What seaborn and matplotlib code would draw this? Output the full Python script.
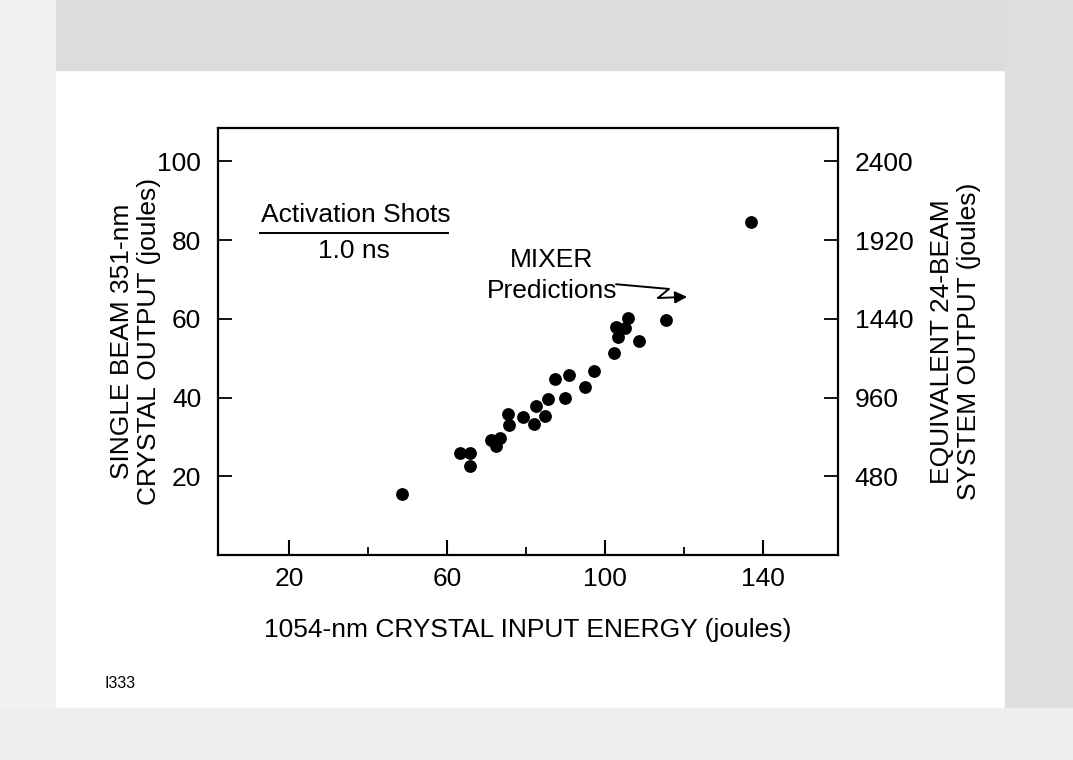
import matplotlib
matplotlib.use("Agg")
import matplotlib.pyplot as plt
from matplotlib.patches import Rectangle
import numpy as np
import pandas as pd
import seaborn as sns

# ---- data ----
input_energy = [48.6, 63.2, 65.9, 65.7, 71.2, 73.5, 72.4, 75.4, 75.6, 79.2,
                81.9, 82.4, 84.7, 85.5, 87.4, 89.8, 91.0, 95.0, 97.3, 102.2,
                102.7, 103.2, 105.1, 105.8, 108.7, 115.4, 137.0]
output_energy = [15.4, 25.9, 25.9, 22.6, 29.2, 29.8, 27.7, 35.8, 33.0, 35.1,
                 33.2, 37.8, 35.4, 39.7, 44.7, 39.9, 45.7, 42.6, 46.8, 51.3,
                 58.0, 55.5, 57.6, 60.2, 54.3, 59.7, 84.5]
x_major_ticks = [20, 60, 100, 140]
x_minor_ticks = [40, 80, 120]
y_ticks = [20, 40, 60, 80, 100]
y2_ticks = [480, 960, 1440, 1920, 2400]
beam_factor = 24

df = pd.DataFrame({"x": input_energy, "y": output_energy})

sns.set_theme(style="ticks")
plt.rcParams["font.family"] = ["Liberation Sans", "DejaVu Sans"]
plt.rcParams["text.color"] = "black"
plt.rcParams["axes.labelcolor"] = "black"
plt.rcParams["xtick.color"] = "black"
plt.rcParams["ytick.color"] = "black"

FS = 19

W, H = 1073, 760
fig = plt.figure(figsize=(W / 100, H / 100), dpi=100)
fig.patch.set_facecolor("white")

# scanned-page border (flat grey bands)
for (x0, y0, w, h, c) in [
    (0, 690, 1073, 70, "#dcdcdc"),   # top band
    (1005, 0, 68, 760, "#dedede"),   # right band
    (0, 0, 55, 760, "#f1f1f1"),      # left band
    (0, 0, 1073, 52, "#eeeeee"),     # bottom band
]:
    fig.patches.append(Rectangle((x0 / W, y0 / H), w / W, h / H,
                                 transform=fig.transFigure, color=c, zorder=0))

L, R, T, B = 218, 838, 128, 555
ax = fig.add_axes([L / W, (H - B) / H, (R - L) / W, (B - T) / H])
ax.set_facecolor("white")

sns.scatterplot(data=df, x="x", y="y", ax=ax, color="black", s=85,
                edgecolor="black", linewidth=0, legend=False, zorder=3)

ax.set_xlim(2, 159)
ax.set_ylim(0, 108.5)
ax.set_xticks(x_major_ticks)
ax.set_xticks(x_minor_ticks, minor=True)
ax.set_yticks(y_ticks)
ax.tick_params(axis="x", which="major", direction="in", length=11, width=1.5,
               labelsize=FS, pad=9)
ax.tick_params(axis="x", which="minor", direction="in", length=6, width=1.3)
ax.tick_params(axis="y", which="major", direction="in", length=10, width=1.3,
               labelsize=FS, pad=12)
for s in ax.spines.values():
    s.set_linewidth(1.6)
    s.set_color("black")

ax.set_xlabel("1054-nm CRYSTAL INPUT ENERGY (joules)", fontsize=FS, labelpad=19)
ax.set_ylabel("SINGLE BEAM 351-nm\nCRYSTAL OUTPUT (joules)", fontsize=FS,
              linespacing=1.15)
ax.yaxis.set_label_coords((161 - L) / (R - L), 0.5)

ax2 = ax.twinx()
ax2.set_ylim(ax.get_ylim()[0] * beam_factor, ax.get_ylim()[1] * beam_factor)
ax2.set_yticks(y2_ticks)
ax2.tick_params(axis="y", which="major", direction="in", length=10, width=1.3,
                labelsize=FS, pad=12)
for s in ax2.spines.values():
    s.set_visible(False)
ax2.set_ylabel("EQUIVALENT 24-BEAM\nSYSTEM OUTPUT (joules)", fontsize=FS,
               linespacing=1.15)
ax2.yaxis.set_label_coords((930 - L) / (R - L), 0.5)

# annotations
ax.text(36.8, 86.3, "Activation Shots", fontsize=FS, ha="center", va="center")
ax.plot([12.5, 60.5], [81.8, 81.8], color="black", lw=1.4, solid_capstyle="butt")
ax.text(36.3, 77.2, "1.0 ns", fontsize=FS, ha="center", va="center")
ax.text(86.5, 75.0, "MIXER", fontsize=FS, ha="center", va="center")
ax.text(86.5, 67.0, "Predictions", fontsize=FS, ha="center", va="center")
ax.plot([102.8, 116.2, 113.4], [68.8, 67.6, 65.3], color="black", lw=1.4)
ax.annotate("", xy=(120.8, 65.6), xytext=(113.4, 65.3),
            arrowprops=dict(arrowstyle="-|>", color="black", lw=1.4,
                            mutation_scale=18, shrinkA=0, shrinkB=0))

fig.text(120 / W, 1 - 683 / H, "I333", fontsize=11.5, ha="center", va="center")

fig.savefig("out.png", dpi=100)
